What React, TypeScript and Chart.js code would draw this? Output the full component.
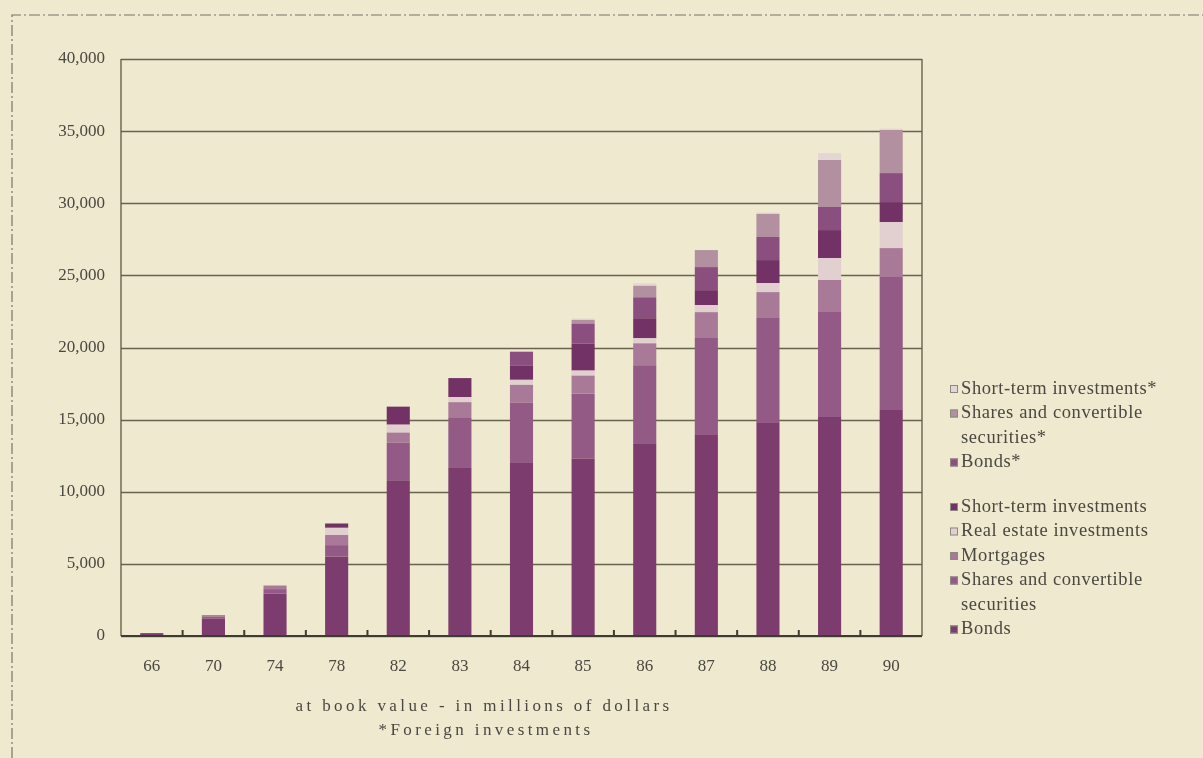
import React, { useEffect, useRef } from "react";
import { Chart, registerables } from "chart.js";

Chart.register(...registerables);

const years = ["66", "70", "74", "78", "82", "83", "84", "85", "86", "87", "88", "89", "90"];
const yTicks = [0, 5000, 10000, 15000, 20000, 25000, 30000, 35000, 40000];

const bonds = [200, 1200, 2950, 5500, 10800, 11700, 12000, 12300, 13370, 13930, 14760, 15180, 15660];
const shares = [0, 150, 300, 800, 2600, 3470, 4160, 4500, 5400, 6720, 7280, 7280, 9220];
const mortgages = [0, 100, 250, 700, 700, 1040, 1250, 1250, 1520, 1800, 1800, 2220, 2010];
const realEstate = [0, 0, 0, 500, 550, 350, 350, 350, 350, 485, 620, 1520, 1800];
const shortTerm = [0, 0, 0, 300, 1250, 1320, 1000, 1870, 1390, 1040, 1600, 1940, 1390];
const bondsForeign = [0, 0, 0, 0, 0, 0, 950, 1390, 1450, 1600, 1600, 1600, 2010];
const sharesForeign = [0, 0, 0, 0, 0, 0, 0, 250, 800, 1180, 1600, 3260, 2980];
const shortTermForeign = [0, 0, 0, 0, 0, 0, 0, 100, 170, 0, 100, 480, 100];

const seriesNames = [
  "Bonds",
  "Shares and convertible securities",
  "Mortgages",
  "Real estate investments",
  "Short-term investments",
  "Bonds*",
  "Shares and convertible securities*",
  "Short-term investments*",
];
const seriesColors = [
  "#7d3c6e",
  "#925a84",
  "#a87a98",
  "#e2cfd0",
  "#733265",
  "#8b4f7f",
  "#b2909f",
  "#e4d6d2",
];

// legend rows: [dataset index, text lines]
const legendRows: [number, string[]][] = [
  [7, ["Short-term investments*"]],
  [6, ["Shares and convertible", "securities*"]],
  [5, ["Bonds*"]],
  [4, ["Short-term investments"]],
  [3, ["Real estate investments"]],
  [2, ["Mortgages"]],
  [1, ["Shares and convertible", "securities"]],
  [0, ["Bonds"]],
];

const BG = "#efe9cf";
const LINE = "#66644c";
const TEXT = "#4a4840";
const SERIF = "'Liberation Serif', 'DejaVu Serif', serif";

const decor = {
  id: "decor",
  beforeDraw(chart: any) {
    const ctx = chart.ctx;
    ctx.save();
    ctx.fillStyle = BG;
    ctx.fillRect(0, 0, chart.width, chart.height);
    // dash-dot frame
    ctx.strokeStyle = "#77756a";
    ctx.lineWidth = 1.2;
    ctx.setLineDash([11, 3, 2, 3]);
    ctx.beginPath();
    ctx.moveTo(12, chart.height);
    ctx.lineTo(12, 15);
    ctx.lineTo(chart.width, 15);
    ctx.stroke();
    ctx.restore();
  },
  beforeDatasetsDraw(chart: any) {
    const ctx = chart.ctx;
    const { left, right, top, bottom } = chart.chartArea;
    const y = chart.scales.y;
    ctx.save();
    ctx.strokeStyle = LINE;
    ctx.lineWidth = 1.4;
    yTicks.forEach((v) => {
      const py = Math.round(y.getPixelForValue(v)) + 0.5;
      ctx.beginPath();
      ctx.moveTo(left, py);
      ctx.lineTo(right, py);
      ctx.stroke();
    });
    ctx.beginPath();
    ctx.moveTo(left, top);
    ctx.lineTo(left, bottom);
    ctx.moveTo(right, top);
    ctx.lineTo(right, bottom);
    ctx.stroke();
    ctx.restore();
  },
  afterDatasetsDraw(chart: any) {
    const ctx = chart.ctx;
    const { left, right, bottom } = chart.chartArea;
    const x = chart.scales.x;
    ctx.save();
    ctx.strokeStyle = "#3e3c30";
    ctx.lineWidth = 2.2;
    ctx.beginPath();
    ctx.moveTo(left, bottom);
    ctx.lineTo(right, bottom);
    ctx.stroke();
    ctx.lineWidth = 2;
    for (let i = 0; i < years.length - 1; i++) {
      const px = (x.getPixelForValue(i) + x.getPixelForValue(i + 1)) / 2;
      ctx.beginPath();
      ctx.moveTo(px, bottom);
      ctx.lineTo(px, bottom - 6);
      ctx.stroke();
    }
    ctx.restore();
  },
  afterDraw(chart: any) {
    const ctx = chart.ctx;
    ctx.save();
    // x-axis caption
    ctx.fillStyle = TEXT;
    ctx.font = `17px ${SERIF}`;
    ctx.textAlign = "center";
    ctx.textBaseline = "middle";
    (ctx as any).letterSpacing = "3.4px";
    ctx.fillText("at book value - in millions of dollars", 484, 707);
    ctx.fillText("*Foreign investments", 486, 731);
    // legend
    (ctx as any).letterSpacing = "0.6px";
    ctx.textAlign = "left";
    ctx.font = `18.5px ${SERIF}`;
    let yy = 389;
    legendRows.forEach(([idx, lines], r) => {
      if (r === 3) yy += 20;
      const ds = chart.data.datasets[idx];
      ctx.fillStyle = ds.backgroundColor;
      ctx.fillRect(950, yy - 4, 8, 8);
      ctx.strokeStyle = "#8d8880";
      ctx.lineWidth = 1;
      ctx.strokeRect(950.5, yy - 3.5, 7, 7);
      ctx.fillStyle = TEXT;
      lines.forEach((t, k) => {
        ctx.fillText(t, 961, yy + k * 24.5);
      });
      yy += lines.length * 24.5;
    });
    ctx.restore();
  },
};

export default function App() {
  const ref = useRef<HTMLCanvasElement>(null);
  useEffect(() => {
    if (!ref.current) return;
    const series = [bonds, shares, mortgages, realEstate, shortTerm, bondsForeign, sharesForeign, shortTermForeign];
    const chart = new Chart(ref.current, {
      type: "bar",
      data: {
        labels: years,
        datasets: series.map((d, i) => ({
          label: seriesNames[i],
          data: d,
          backgroundColor: seriesColors[i],
          borderWidth: 0,
          barPercentage: 0.75,
          categoryPercentage: 0.5,
        })),
      },
      options: {
        responsive: false,
        animation: false,
        layout: { padding: { left: 0, top: 59, right: 281, bottom: 0 } },
        plugins: { legend: { display: false }, tooltip: { enabled: false }, title: { display: false } },
        scales: {
          x: {
            stacked: true,
            grid: { display: false },
            border: { display: false },
            ticks: { color: TEXT, font: { family: SERIF, size: 17 }, padding: 12, maxRotation: 0 },
            afterFit: (s: any) => {
              s.height = 122;
            },
          },
          y: {
            stacked: true,
            min: 0,
            max: 40000,
            grid: { display: false },
            border: { display: false },
            afterBuildTicks: (s: any) => {
              s.ticks = yTicks.map((v) => ({ value: v }));
            },
            ticks: {
              color: TEXT,
              font: { family: SERIF, size: 17 },
              padding: 8,
              callback: (v: any) => Number(v).toLocaleString("en-US"),
            },
            afterFit: (s: any) => {
              s.width = 121;
            },
          },
        },
      },
      plugins: [decor],
    });
    return () => chart.destroy();
  }, []);
  return (
    <div style={{ position: "fixed", left: 0, top: 0, width: 1203, height: 758, background: BG }}>
      <canvas ref={ref} width={1203} height={758} />
    </div>
  );
}
